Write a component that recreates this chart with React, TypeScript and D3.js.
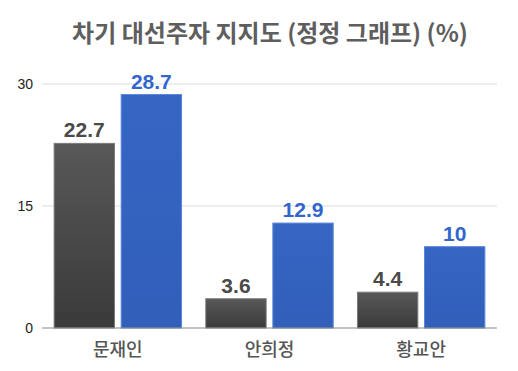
import * as d3 from "d3";
import { useEffect, useRef } from "react";

const title = "차기 대선주자 지지도 (정정 그래프) (%)";
const candidates = ["문재인", "안희정", "황교안"];
const seriesKeys = ["before", "after"];
const beforeValues = [22.7, 3.6, 4.4];
const afterValues = [28.7, 12.9, 10];
const yTicks = [0, 15, 30];

function App() {
    const ref = useRef<SVGSVGElement>(null);

    useEffect(() => {
        const svg = d3.select(ref.current);
        svg.selectAll("*").remove();

        const width = 518;
        const height = 371;
        const left = 42;
        const right = 497;
        const top = 84;
        const bottom = 328;

        const data = candidates.map((name, i) => ({
            name,
            values: [beforeValues[i], afterValues[i]],
        }));

        const x0 = d3.scaleBand().domain(candidates).range([left, right])
            .paddingInner(0.16).paddingOuter(0.08);
        const x1 = d3.scaleBand().domain(seriesKeys).range([0, x0.bandwidth()])
            .paddingInner(0.1);
        const y = d3.scaleLinear().domain([0, 30]).range([bottom, top]);

        const fills = ["url(#gradDark)", "url(#gradBlue)"];
        const strokes = ["#7a7a7a", "#5a86d8"];
        const labelColors = ["#4a4a4a", "#3366cc"];

        const defs = svg.append("defs");
        const gd = defs.append("linearGradient").attr("id", "gradDark")
            .attr("x1", 0).attr("y1", 0).attr("x2", 0).attr("y2", 1);
        gd.append("stop").attr("offset", "0%").attr("stop-color", "#585858");
        gd.append("stop").attr("offset", "100%").attr("stop-color", "#3a3a3a");
        const gb = defs.append("linearGradient").attr("id", "gradBlue")
            .attr("x1", 0).attr("y1", 0).attr("x2", 0).attr("y2", 1);
        gb.append("stop").attr("offset", "0%").attr("stop-color", "#3566c4");
        gb.append("stop").attr("offset", "100%").attr("stop-color", "#315fba");

        svg.append("text")
            .attr("x", 270)
            .attr("y", 42)
            .attr("text-anchor", "middle")
            .attr("font-family", "'Noto Sans CJK KR', sans-serif")
            .attr("font-weight", "bold")
            .attr("font-size", 24)
            .attr("fill", "#5e5e5e")
            .text(title);

        // grid
        svg.append("g").selectAll("line")
            .data(yTicks.filter(t => t !== 0))
            .enter()
            .append("line")
            .attr("x1", left).attr("x2", right)
            .attr("y1", d => y(d)).attr("y2", d => y(d))
            .attr("stroke", "#dddddd")
            .attr("stroke-width", 1);

        svg.append("g").selectAll("text")
            .data(yTicks)
            .enter()
            .append("text")
            .attr("x", 33)
            .attr("y", d => y(d))
            .attr("dy", "0.35em")
            .attr("text-anchor", "end")
            .attr("font-family", "'Liberation Sans', Arial, sans-serif")
            .attr("font-size", 14)
            .attr("fill", "#222")
            .text(d => d);

        const groups = svg.append("g").selectAll("g")
            .data(data)
            .enter()
            .append("g")
            .attr("transform", d => `translate(${x0(d.name)},0)`);

        groups.selectAll("rect")
            .data(d => d.values)
            .enter()
            .append("rect")
            .attr("x", (_, i) => x1(seriesKeys[i])!)
            .attr("y", d => y(d))
            .attr("width", x1.bandwidth())
            .attr("height", d => y(0) - y(d))
            .attr("fill", (_, i) => fills[i])
            .attr("stroke", (_, i) => strokes[i])
            .attr("stroke-width", 1);

        groups.selectAll("text.value")
            .data(d => d.values)
            .enter()
            .append("text")
            .attr("class", "value")
            .attr("x", (_, i) => x1(seriesKeys[i])! + x1.bandwidth() / 2)
            .attr("y", d => y(d) - 6)
            .attr("text-anchor", "middle")
            .attr("font-family", "'Liberation Sans', Arial, sans-serif")
            .attr("font-weight", "bold")
            .attr("font-size", 21)
            .attr("fill", (_, i) => labelColors[i])
            .text(d => d);

        // baseline
        svg.append("line")
            .attr("x1", left).attr("x2", right)
            .attr("y1", y(0)).attr("y2", y(0))
            .attr("stroke", "#888")
            .attr("stroke-width", 1);

        svg.append("g").selectAll("text")
            .data(candidates)
            .enter()
            .append("text")
            .attr("x", d => x0(d)! + x0.bandwidth() / 2)
            .attr("y", 356)
            .attr("text-anchor", "middle")
            .attr("font-family", "'Noto Sans CJK KR', sans-serif")
            .attr("font-weight", 500)
            .attr("font-size", 18)
            .attr("fill", "#555")
            .text(d => d);

        svg.attr("width", width).attr("height", height);
    }, []);

    return (
        <svg ref={ref} width={518} height={371}
            style={{ position: "absolute", left: 0, top: 0, background: "#fff" }} />
    );
}

export default App;
